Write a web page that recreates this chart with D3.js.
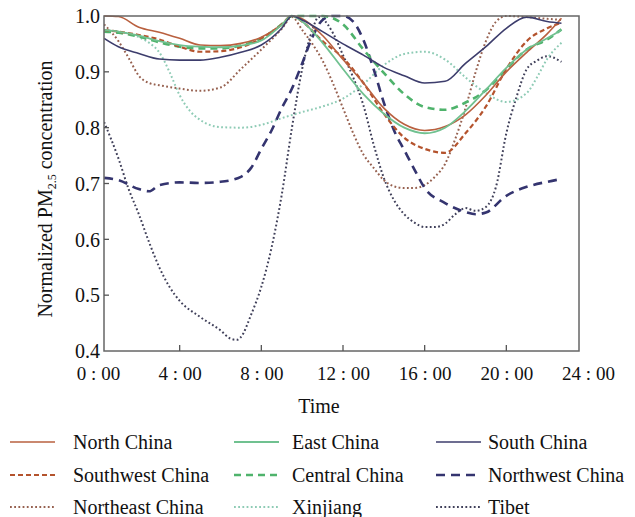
<!DOCTYPE html>
<html><head><meta charset="utf-8">
<script src="https://cdn.jsdelivr.net/npm/d3@7"></script>
<style>body{margin:0;background:#fff}svg text{font-family:"Liberation Serif","Times New Roman",serif;fill:#111}</style>
</head><body><svg id="c" width="635" height="517"></svg>
<script>
// ---- data ----
const regionNames = ["North China","East China","South China","Southwest China","Central China","Northwest China","Northeast China","Xinjiang","Tibet"];
const hoursMain = [0.3,1,2,3,4,5,6,7,8,9,9.5,10,11,12,13,14,15,16,17,18,19,20,21,22,22.7];
const northChina = [1.0,0.999,0.98,0.971,0.96,0.948,0.947,0.951,0.962,0.984,1.0,0.995,0.965,0.922,0.88,0.835,0.806,0.795,0.802,0.823,0.858,0.9,0.935,0.968,0.996];
const eastChina = [0.975,0.972,0.965,0.955,0.948,0.945,0.944,0.947,0.956,0.984,1.0,0.99,0.952,0.905,0.86,0.825,0.8,0.79,0.8,0.83,0.868,0.907,0.94,0.96,0.975];
const southChina = [0.96,0.945,0.933,0.923,0.921,0.921,0.926,0.935,0.948,0.978,1.0,0.993,0.972,0.95,0.93,0.908,0.893,0.88,0.883,0.915,0.945,0.978,0.998,0.99,0.987];
const southwestChina = [0.975,0.972,0.966,0.958,0.945,0.936,0.937,0.944,0.96,0.985,1.0,0.99,0.955,0.925,0.88,0.825,0.782,0.762,0.755,0.79,0.838,0.905,0.955,0.978,0.988];
const centralChina = [0.972,0.97,0.963,0.953,0.945,0.942,0.942,0.947,0.96,0.985,1.0,1.0,1.0,0.985,0.94,0.898,0.86,0.837,0.832,0.845,0.867,0.905,0.94,0.958,0.976];
const hoursNorthwest = [0.3,1,2,2.5,3,4,5,6,7,7.5,8,8.5,9,9.5,10,10.5,11,11.5,12,12.5,13,13.5,14,14.5,15,15.5,16,17,18,18.5,19,20,21,22,22.7];
const northwestChina = [0.71,0.706,0.69,0.686,0.697,0.702,0.701,0.703,0.712,0.728,0.762,0.795,0.835,0.87,0.915,0.962,0.993,1.0,1.0,0.99,0.957,0.905,0.845,0.795,0.76,0.725,0.692,0.665,0.649,0.645,0.648,0.678,0.694,0.703,0.708];
const hoursNortheast = [0.3,1,1.5,2,2.5,3,4,5,6,7,8,9,9.5,10,10.5,11,11.5,12,12.5,13,13.5,14,14.5,15,15.5,16,16.5,17,17.5,18,18.5,19,19.5,20,21,22,22.7];
const northeastChina = [0.985,0.955,0.925,0.893,0.88,0.876,0.87,0.866,0.872,0.905,0.94,0.977,0.998,0.975,0.95,0.92,0.88,0.835,0.79,0.752,0.728,0.706,0.695,0.692,0.692,0.697,0.712,0.735,0.78,0.835,0.9,0.955,0.99,1.0,0.998,0.995,0.993];
const hoursXinjiang = [0.3,1,2,2.5,3,3.5,4,4.5,5,6,7,8,9,10,11,12,13,14,15,16,17,18,19,20,21,21.5,22,22.7];
const xinjiang = [0.975,0.972,0.962,0.952,0.935,0.9,0.858,0.83,0.814,0.801,0.8,0.805,0.817,0.828,0.838,0.852,0.878,0.912,0.932,0.936,0.922,0.89,0.862,0.846,0.862,0.89,0.923,0.952];
const hoursTibet = [0.3,1,1.5,2,2.5,3,3.5,4,5,6,6.5,6.8,7,7.5,8,8.5,9,9.5,10,10.5,10.8,11,11.5,12,12.5,13,13.5,14,14.5,15,15.5,16,16.5,17,17.5,18,18.5,19,19.5,20,20.5,21,21.5,22,22.7];
const tibet = [0.81,0.745,0.69,0.645,0.595,0.55,0.515,0.49,0.461,0.437,0.422,0.42,0.425,0.465,0.515,0.585,0.68,0.8,0.905,0.975,0.998,0.995,0.97,0.93,0.89,0.84,0.77,0.71,0.67,0.645,0.63,0.622,0.622,0.628,0.645,0.656,0.651,0.658,0.695,0.79,0.855,0.905,0.92,0.928,0.918];
const xTickHours = [0,4,8,12,16,20,24];
const xTickLabels = ["0 : 00","4 : 00","8 : 00","12 : 00","16 : 00","20 : 00","24 : 00"];
const yTickValues = [0.4,0.5,0.6,0.7,0.8,0.9,1.0];
const yTickLabels = ["0.4","0.5","0.6","0.7","0.8","0.9","1.0"];

// ---- styles ----
const styles = [
  {color:"#b9603f", width:1.6, dash:null},
  {color:"#70c190", width:1.8, dash:null},
  {color:"#3d3d6c", width:1.6, dash:null},
  {color:"#b4532d", width:2.2, dash:"5,3"},
  {color:"#4fb36c", width:2.6, dash:"7,5"},
  {color:"#34346f", width:2.6, dash:"9,6"},
  {color:"#96604f", width:2, dash:"1.8,2.4"},
  {color:"#8ecbb5", width:2, dash:"1.8,2.4"},
  {color:"#40405a", width:2, dash:"1.8,2.4"}
];
const seriesHours = [hoursMain,hoursMain,hoursMain,hoursMain,hoursMain,hoursNorthwest,hoursNortheast,hoursXinjiang,hoursTibet];
const seriesValues = [northChina,eastChina,southChina,southwestChina,centralChina,northwestChina,northeastChina,xinjiang,tibet];

const svg = d3.select("#c");
const frame = {left:104, right:579, top:16, bottom:351};
const x = d3.scaleLinear().domain([0,24]).range([98,588]);
const y = d3.scaleLinear().domain([0.4,1.0]).range([frame.bottom, frame.top]);

svg.append("clipPath").attr("id","clip").append("rect")
  .attr("x",frame.left).attr("y",frame.top-2).attr("width",frame.right-frame.left).attr("height",frame.bottom-frame.top+2);

const line = d3.line().x(d=>x(d[0])).y(d=>y(d[1])).curve(d3.curveMonotoneX);
const plot = svg.append("g").attr("clip-path","url(#clip)");
const order = [8,7,6,5,4,3,0,1,2];
order.forEach(i=>{
  const pts = seriesHours[i].map((h,j)=>[h, seriesValues[i][j]]);
  plot.append("path").attr("d", line(pts)).attr("fill","none")
    .attr("stroke", styles[i].color).attr("stroke-width", styles[i].width)
    .attr("stroke-dasharray", styles[i].dash);
});

// frame
svg.append("rect").attr("x",frame.left).attr("y",frame.top)
  .attr("width",frame.right-frame.left).attr("height",frame.bottom-frame.top)
  .attr("fill","none").attr("stroke","#666").attr("stroke-width",1.5);

// x axis ticks (inward) and labels
const xAxis = d3.axisBottom(x).tickValues(xTickHours).tickSize(0).tickFormat((d,i)=>xTickLabels[i]);
const gx = svg.append("g").attr("transform",`translate(0,${frame.bottom})`).call(xAxis);
gx.select(".domain").remove();
gx.selectAll("text").attr("font-size",19).attr("dy",0).attr("y",29).attr("fill","#111")
  .style("font-family","'Liberation Serif',serif");
svg.append("g").selectAll("line").data(xTickHours.filter(h=>h>0&&h<24)).join("line")
  .attr("x1",d=>x(d)).attr("x2",d=>x(d)).attr("y1",frame.bottom).attr("y2",frame.bottom-6)
  .attr("stroke","#555").attr("stroke-width",1.3);

// y axis
const yAxis = d3.axisLeft(y).tickValues(yTickValues).tickSize(0).tickFormat((d,i)=>yTickLabels[i]);
const gy = svg.append("g").attr("transform",`translate(${frame.left},0)`).call(yAxis);
gy.select(".domain").remove();
gy.selectAll("text").attr("font-size",20).attr("x",-4).attr("dy","0.34em").attr("fill","#111")
  .style("font-family","'Liberation Serif',serif");
svg.append("g").selectAll("line").data(yTickValues.filter(v=>v>0.4&&v<1.0)).join("line")
  .attr("x1",frame.left).attr("x2",frame.left+5).attr("y1",d=>y(d)).attr("y2",d=>y(d))
  .attr("stroke","#555").attr("stroke-width",1.3);

// axis titles
svg.append("text").attr("x",319).attr("y",413).attr("text-anchor","middle").attr("font-size",20).text("Time");
const yt = svg.append("text").attr("transform","translate(52,189) rotate(-90)").attr("text-anchor","middle").attr("font-size",20);
yt.append("tspan").text("Normalized PM");
yt.append("tspan").attr("font-size",12).attr("dy",4).text("2.5");
yt.append("tspan").attr("dy",-4).text(" concentration");

// legend
const colX = [10,234,436];
const textX = [73,292,488];
const rowY = [449,482,514];
regionNames.forEach((name,i)=>{
  const c = i%3, r = Math.floor(i/3);
  const ly = rowY[r]-7;
  svg.append("line").attr("x1",colX[c]).attr("x2",colX[c]+45).attr("y1",ly).attr("y2",ly)
    .attr("stroke",styles[i].color).attr("stroke-width",styles[i].width)
    .attr("stroke-dasharray",styles[i].dash);
  svg.append("text").attr("x",textX[c]).attr("y",rowY[r]).attr("font-size",20).text(name);
});
</script>
</body></html>
